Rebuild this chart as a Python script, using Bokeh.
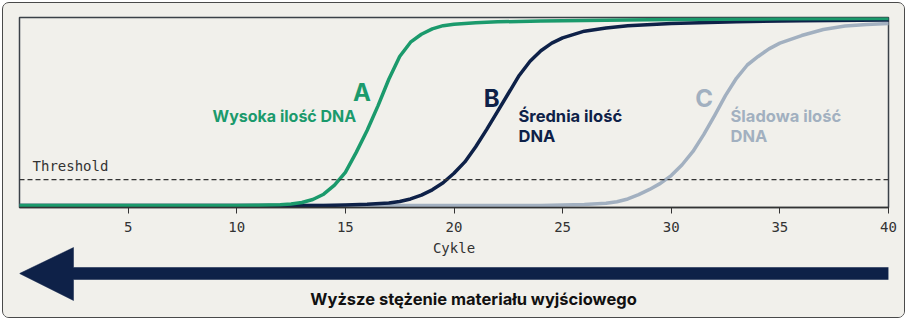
from bokeh.plotting import figure
from bokeh.layouts import column
from bokeh.models import Range1d, FixedTicker, Span, Label
from bokeh.core.properties import value
from bokeh.embed import file_html
from bokeh.resources import INLINE

# ---- data ----
cycles_a = [0, 5, 10, 11, 12, 12.5, 13, 13.5, 14, 14.5, 15, 15.5, 16, 16.5, 17, 17.5,
            18, 18.5, 19, 19.5, 20, 21, 22, 24, 27, 30, 35, 40]
signal_a = [0.01, 0.01, 0.011, 0.012, 0.014, 0.018, 0.026, 0.042, 0.07, 0.118, 0.185,
            0.29, 0.405, 0.535, 0.675, 0.795, 0.87, 0.912, 0.94, 0.957, 0.965, 0.972,
            0.977, 0.982, 0.986, 0.99, 0.993, 0.995]

cycles_b = [0, 10, 14, 15, 16, 17, 17.5, 18, 18.5, 19, 19.5, 20, 20.5, 21, 21.5, 22,
            22.5, 23, 23.5, 24, 24.5, 25, 26, 27, 28, 30, 33, 36, 40]
signal_b = [0.01, 0.01, 0.011, 0.013, 0.017, 0.024, 0.032, 0.045, 0.065, 0.093, 0.13,
            0.18, 0.24, 0.32, 0.41, 0.505, 0.6, 0.695, 0.77, 0.825, 0.865, 0.893,
            0.928, 0.945, 0.957, 0.968, 0.978, 0.983, 0.987]

cycles_c = [0, 20, 24, 25, 26, 27, 27.5, 28, 28.5, 29, 29.5, 30, 30.5, 31, 31.5, 32,
            32.5, 33, 33.5, 34, 34.5, 35, 36, 37, 38, 39, 40]
signal_c = [0.01, 0.01, 0.011, 0.013, 0.016, 0.022, 0.03, 0.045, 0.068, 0.095, 0.127,
            0.168, 0.225, 0.295, 0.385, 0.485, 0.59, 0.68, 0.75, 0.795, 0.835, 0.865,
            0.905, 0.937, 0.955, 0.963, 0.968]

threshold = 0.147
x_ticks = [5, 10, 15, 20, 25, 30, 35, 40]
axis_title = "Cykle"
arrow_text = "Wyższe stężenie materiału wyjściowego"

GREEN = "#1b9a6c"
NAVY = "#0e2148"
GREY = "#a2b0c0"
BG = "#f1f0eb"
MONO = "DejaVu Sans Mono"
SANS = "Inter"

W = 901
TOP_H = 235
BOT_H = 79

p = figure(width=W, height=TOP_H, output_backend="svg", toolbar_location=None,
           x_range=Range1d(0, 40), y_range=Range1d(0, 1), y_axis_location=None,
           min_border_left=16, min_border_right=16, min_border_top=14,
           min_border_bottom=31)
p.background_fill_color = BG
p.border_fill_color = BG
p.outline_line_color = "#3b4148"
p.outline_line_width = 1.5
p.xgrid.visible = False
p.ygrid.visible = False

ax = p.xaxis[0]
ax.ticker = FixedTicker(ticks=x_ticks)
ax.minor_tick_line_color = None
ax.major_tick_in = 0
ax.major_tick_out = 6
ax.major_tick_line_color = "#333333"
ax.axis_line_color = "#333333"
ax.axis_line_width = 1.5
ax.major_label_text_font = MONO
ax.major_label_text_font_size = "14px"
ax.major_label_text_color = "#333333"
ax.major_label_standoff = 8

p.add_layout(Span(location=threshold, dimension="width", line_color="#333333",
                  line_width=1.2, line_dash="5 3"))
p.add_layout(Label(x=0.6, y=0.216, text="Threshold", text_font=MONO,
                   text_font_size="14px", text_color="#333333",
                   text_baseline="middle"))

for xs, ys, col in [(cycles_c, signal_c, GREY), (cycles_b, signal_b, NAVY),
                    (cycles_a, signal_a, GREEN)]:
    p.line(xs, ys, line_color=col, line_width=3.5, line_cap="round",
           line_join="round")

def lab(x, y, text, color, size, align="left"):
    p.add_layout(Label(x=x, y=y, text=text, text_font=SANS, text_font_style="bold",
                       text_font_size=size, text_color=color, text_align=align,
                       text_baseline="middle"))

lab(15.76, 0.605, "A", GREEN, "24px", "center")
lab(15.5, 0.484, "Wysoka ilość DNA", GREEN, "16px", "right")
lab(21.73, 0.574, "B", NAVY, "24px", "center")
lab(22.97, 0.479, "Średnia ilość", NAVY, "16.5px")
lab(22.97, 0.374, "DNA", NAVY, "16.5px")
lab(31.51, 0.574, "C", GREY, "24px", "center")
lab(32.73, 0.479, "Śladowa ilość", GREY, "16.5px")
lab(32.73, 0.374, "DNA", GREY, "16.5px")

# ---- bottom strip: axis title, arrow, caption (y in pixels, downward) ----
b = figure(width=W, height=BOT_H, output_backend="svg", toolbar_location=None,
           x_range=Range1d(0, 40), y_range=Range1d(BOT_H, 0),
           x_axis_location=None, y_axis_location=None,
           min_border_left=16, min_border_right=16,
           min_border_top=0, min_border_bottom=0)
b.background_fill_color = BG
b.border_fill_color = BG
b.outline_line_color = None
b.xgrid.visible = False
b.ygrid.visible = False

b.text(x=[20], y=[9], text=[axis_title], text_font=value(MONO),
       text_font_size="14px", text_color="#333333", text_align="center",
       text_baseline="middle")
head = 2.486
b.patch(x=[0, head, head, 40, 40, head, head],
        y=[35, 9, 29, 29, 41, 41, 62],
        fill_color=NAVY, line_color=NAVY, line_width=0.5)
b.text(x=[20.9], y=[60], text=[arrow_text], text_font=value(SANS),
       text_font_style="bold", text_font_size="16.5px", text_color="#111111",
       text_align="center", text_baseline="middle")

layout = column(p, b, spacing=0,
                styles={"margin": "1.5px 0 0 1.5px",
                        "border": "1.5px solid #4a4a4a",
                        "border-radius": "7px",
                        "background-color": BG,
                        "overflow": "hidden"})

open("out.html", "w").write(file_html(layout, INLINE))
